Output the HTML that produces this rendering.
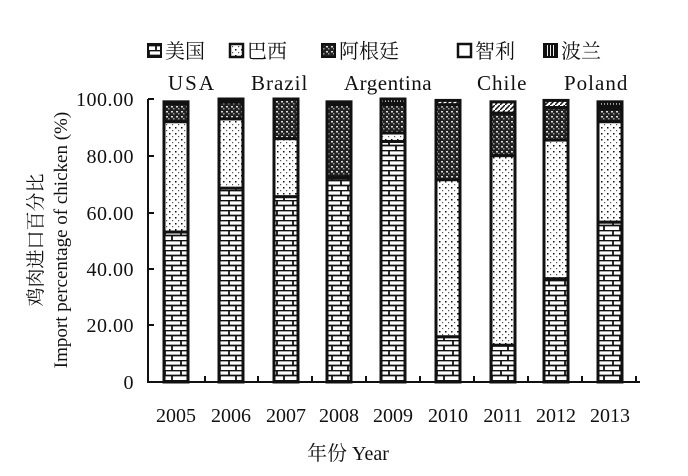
<!DOCTYPE html>
<html><head><meta charset="utf-8"><style>
body{margin:0;background:#fff}
svg text{font-family:"Liberation Serif","Noto Serif CJK SC",serif;fill:#111}
</style></head><body>
<svg width="688" height="471" viewBox="0 0 688 471" xmlns="http://www.w3.org/2000/svg">
<defs>
<pattern id="brick" width="16" height="10" patternUnits="userSpaceOnUse">
<rect width="16" height="10" fill="#fff"/>
<path d="M0 0.5H16M0 5.5H16M5 0V5.5M12 5.5V10" stroke="#111" stroke-width="1.8"/>
</pattern>
<pattern id="dots" width="6" height="6" patternUnits="userSpaceOnUse">
<rect width="6" height="6" fill="#fff"/>
<rect x="1" y="1" width="1.5" height="1.5" fill="#111"/><rect x="4" y="4" width="1.2" height="1.2" fill="#555"/>
</pattern>
<pattern id="cross" width="5" height="5" patternUnits="userSpaceOnUse">
<rect width="5" height="5" fill="#222"/>
<rect x="1" y="1" width="2" height="1.5" fill="#ddd"/><rect x="3" y="3" width="1.5" height="1.5" fill="#999"/>
</pattern>
<pattern id="hatch" width="5" height="5" patternUnits="userSpaceOnUse">
<rect width="5" height="5" fill="#fff"/><path d="M0 5L5 0" stroke="#111" stroke-width="1.5"/>
</pattern>
<pattern id="vl" width="3" height="3" patternUnits="userSpaceOnUse">
<rect width="3" height="3" fill="#111"/><rect x="1" width="1" height="3" fill="#eee"/>
</pattern>
</defs>
<g font-size="21">
<rect x="148" y="44" width="13" height="13" fill="url(#brick)" stroke="#111" stroke-width="2"/>
<text x="165" y="58" font-size="20">美国</text>
<rect x="230" y="44" width="13" height="13" fill="url(#dots)" stroke="#111" stroke-width="2.5"/>
<text x="247" y="58" font-size="20">巴西</text>
<rect x="322" y="44" width="13" height="13" fill="url(#cross)" stroke="#111" stroke-width="2"/>
<text x="339" y="58" font-size="20">阿根廷</text>
<rect x="458" y="44" width="13" height="13" fill="#fff" stroke="#111" stroke-width="2.5"/>
<text x="475" y="58" font-size="20">智利</text>
<rect x="544" y="44" width="13" height="13" fill="url(#vl)" stroke="#111" stroke-width="2"/>
<text x="561" y="58" font-size="20">波兰</text>
<text x="168" y="90" letter-spacing="2">USA</text>
<text x="251" y="90" letter-spacing="1">Brazil</text>
<text x="344" y="90" letter-spacing="0.5">Argentina</text>
<text x="477" y="90" letter-spacing="1">Chile</text>
<text x="564" y="90" letter-spacing="1">Poland</text>
</g>
<path d="M148 99V382H640" stroke="#111" stroke-width="2" fill="none"/>
<g stroke="#111" stroke-width="2">
<path d="M148 99h6M148 156h6M148 213h6M148 269h6M148 325h6"/>
<path d="M205 382v-6M258 382v-6M312 382v-6M366 382v-6M420 382v-6M474 382v-6M528 382v-6M582 382v-6M636 382v-6"/>
</g>
<g font-size="20" text-anchor="end" letter-spacing="0.5">
<text x="134" y="106">100.00</text><text x="134" y="163">80.00</text><text x="134" y="220">60.00</text>
<text x="134" y="276">40.00</text><text x="134" y="332">20.00</text><text x="134" y="389">0</text>
</g>
<g font-size="20" text-anchor="middle">
<text x="176" y="422">2005</text><text x="231" y="422">2006</text><text x="286" y="422">2007</text>
<text x="339" y="422">2008</text><text x="393" y="422">2009</text><text x="448" y="422">2010</text>
<text x="503" y="422">2011</text><text x="556" y="422">2012</text><text x="610" y="422">2013</text>
<text x="348" y="460">年份 Year</text>
</g>
<g font-size="19" text-anchor="middle">
<text transform="translate(42,240) rotate(-90)">鸡肉进口百分比</text>
<text transform="translate(67,240) rotate(-90)">Import percentage of chicken (%)</text>
</g>
<g id="bars" stroke="#111" stroke-width="3"></g>
</svg>
<script>
var xs=[164,219,274,327,381,436,491,544,598];
var d=[[53,92,98.5,98.5,99],[68.5,93,99,99.5,100],[65.5,86,100,100,100],[72,72.5,98,98.5,99],[85,88,98,98.5,100],[16,71.5,98,99.5,99.5],[13,80,95,99,99],[36.5,85.5,97,99.5,99.5],[56.5,92,96.5,97.5,99]];
var f=['url(#brick)','url(#dots)','url(#cross)','url(#hatch)','url(#vl)'];
var g=document.getElementById('bars'),s='';
function y(v){return 382-v*2.83;}
d.forEach(function(r,i){var p=0;r.forEach(function(v,k){if(v>p){s+='<rect x="'+xs[i]+'" y="'+y(v)+'" width="24" height="'+(y(p)-y(v))+'" fill="'+f[k]+'"/>';}p=Math.max(p,v);});});
g.innerHTML=s;
</script>
</body></html>
